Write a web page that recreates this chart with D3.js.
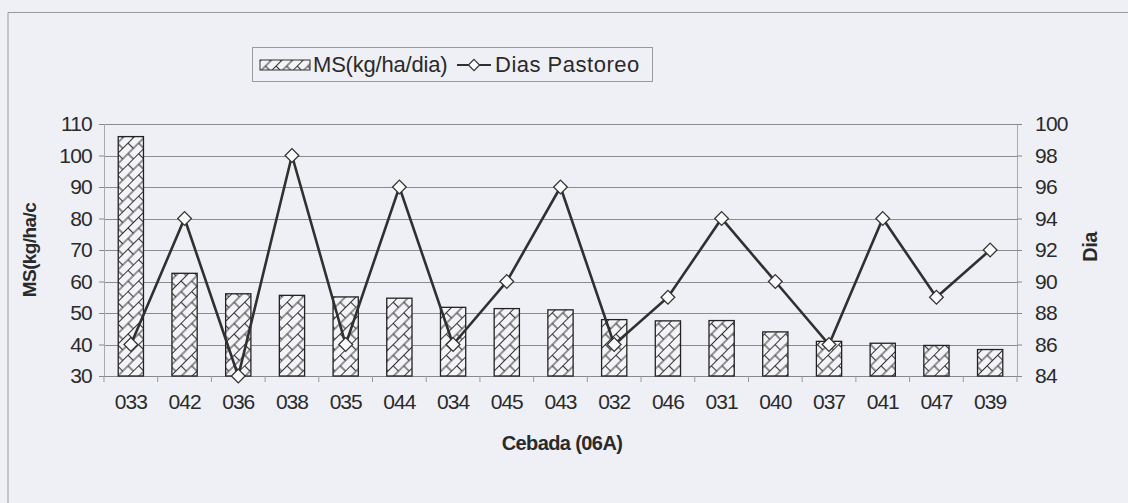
<!DOCTYPE html>
<html>
<head>
<meta charset="utf-8">
<script src="https://cdn.jsdelivr.net/npm/d3@7"></script>
<style>
  body { margin: 0; background: #eff0f6; }
  svg { display: block; font-family: 'Liberation Sans', Arial, sans-serif; }
</style>
</head>
<body>
<div id="chart"></div>
<script>
let categories = ['033', '042', '036', '038', '035', '044', '034', '045', '043', '032', '046', '031', '040', '037', '041', '047', '039']
let msValues = [106, 62.6, 56.1, 55.6, 55.1, 54.7, 51.8, 51.4, 51.0, 47.9, 47.5, 47.6, 44.0, 41.0, 40.4, 39.7, 38.4]
let diasValues = [86, 94, 84, 98, 86, 96, 86, 90, 96, 86, 89, 94, 90, 86, 94, 89, 92]
let leftTicks = [30, 40, 50, 60, 70, 80, 90, 100, 110]
let rightTicks = [84, 86, 88, 90, 92, 94, 96, 98, 100]

let width = 1128
let height = 503
let margin = { top: 124, left: 104, right: 111, bottom: 127 }
let innerW = width - margin.left - margin.right
let innerH = height - margin.top - margin.bottom

let svg = d3
  .select('#chart')
  .append('svg')
  .attr('width', width)
  .attr('height', height)

// hatch pattern (diagonal brick)
let defs = svg.append('defs')
let pat = defs
  .append('pattern')
  .attr('id', 'brick')
  .attr('patternUnits', 'userSpaceOnUse')
  .attr('width', 15)
  .attr('height', 15)
  .attr('patternTransform', 'rotate(-45)')
pat.append('rect').attr('width', 15).attr('height', 15).attr('fill', '#f4f4f8')
pat.append('path')
  .attr('d', 'M0,0.5 H15 M0,8 H15 M3.5,0.5 V8 M11,8 V15.5')
  .attr('stroke', '#333')
  .attr('stroke-width', 1.1)
  .attr('fill', 'none')

// outer chart border (only top and left visible)
svg.append('path')
  .attr('d', 'M8,' + height + ' V12.5 H' + width)
  .attr('fill', 'none')
  .attr('stroke', '#9a9a9e')
  .attr('stroke-width', 1)

let g = svg.append('g').attr('transform', 'translate(' + margin.left + ',' + margin.top + ')')

let x = d3.scaleBand().domain(categories).range([0, innerW]).paddingInner(0.53).paddingOuter(0.265)
let yLeft = d3.scaleLinear().domain([30, 110]).range([innerH, 0])
let yRight = d3.scaleLinear().domain([84, 100]).range([innerH, 0])

// gridlines
g.append('g')
  .selectAll('line')
  .data(leftTicks)
  .enter()
  .append('line')
  .attr('x1', 0)
  .attr('x2', innerW)
  .attr('y1', d => Math.round(yLeft(d)) + 0.5)
  .attr('y2', d => Math.round(yLeft(d)) + 0.5)
  .attr('stroke', '#8c8c90')
  .attr('stroke-width', 1)

// left axis
let leftAxis = g.append('g')
  .call(d3.axisLeft(yLeft).tickValues(leftTicks).tickSize(5).tickPadding(7))
leftAxis.select('.domain').attr('stroke', '#aaa')
leftAxis.selectAll('.tick line').attr('stroke', '#888')
leftAxis.selectAll('text').attr('font-size', 21).attr('fill', '#2a2a2a').attr('letter-spacing', -0.8)

// right axis
let rightAxis = g.append('g')
  .attr('transform', 'translate(' + innerW + ',0)')
  .call(d3.axisRight(yRight).tickValues(rightTicks).tickSize(5).tickPadding(13))
rightAxis.select('.domain').attr('stroke', '#aaa')
rightAxis.selectAll('.tick line').attr('stroke', '#888')
rightAxis.selectAll('text').attr('font-size', 21).attr('fill', '#2a2a2a').attr('letter-spacing', -0.8)

// x axis line and ticks between categories
let xAxisG = g.append('g').attr('transform', 'translate(0,' + innerH + ')')
xAxisG.append('line')
  .attr('x1', 0).attr('x2', innerW)
  .attr('y1', 0.5).attr('y2', 0.5)
  .attr('stroke', '#888')
xAxisG.selectAll('.sep')
  .data(d3.range(categories.length + 1))
  .enter()
  .append('line')
  .attr('x1', i => i * innerW / categories.length)
  .attr('x2', i => i * innerW / categories.length)
  .attr('y1', 0)
  .attr('y2', 6)
  .attr('stroke', '#999')
xAxisG.selectAll('.lab')
  .data(categories)
  .enter()
  .append('text')
  .attr('x', d => x(d) + x.bandwidth() / 2)
  .attr('y', 33)
  .attr('text-anchor', 'middle')
  .attr('font-size', 21)
  .attr('letter-spacing', -1)
  .attr('fill', '#2a2a2a')
  .text(d => d)

// bars
g.selectAll('.bar')
  .data(msValues)
  .enter()
  .append('rect')
  .attr('class', 'bar')
  .attr('x', (d, i) => x(categories[i]))
  .attr('width', x.bandwidth())
  .attr('y', d => yLeft(d))
  .attr('height', d => innerH - yLeft(d))
  .attr('fill', 'url(#brick)')
  .attr('stroke', '#222')
  .attr('stroke-width', 1.3)

// line
let line = d3.line()
  .x((d, i) => x(categories[i]) + x.bandwidth() / 2)
  .y(d => yRight(d))
g.append('path')
  .datum(diasValues)
  .attr('d', line)
  .attr('fill', 'none')
  .attr('stroke', '#303030')
  .attr('stroke-width', 2.6)

g.selectAll('.pt')
  .data(diasValues)
  .enter()
  .append('path')
  .attr('class', 'pt')
  .attr('d', d3.symbol().type(d3.symbolDiamond2).size(120))
  .attr('transform', (d, i) => 'translate(' + (x(categories[i]) + x.bandwidth() / 2) + ',' + yRight(d) + ')')
  .attr('fill', '#fafafa')
  .attr('stroke', '#333')
  .attr('stroke-width', 1.3)

// axis titles
svg.append('text')
  .attr('transform', 'translate(36,250) rotate(-90)')
  .attr('text-anchor', 'middle')
  .attr('font-size', 19)
  .attr('font-weight', 'bold')
  .attr('letter-spacing', -0.6)
  .attr('fill', '#2a2a2a')
  .text('MS(kg/ha/c')

svg.append('text')
  .attr('transform', 'translate(1097,247) rotate(-90)')
  .attr('text-anchor', 'middle')
  .attr('font-size', 20)
  .attr('font-weight', 'bold')
  .attr('letter-spacing', -0.6)
  .attr('fill', '#2a2a2a')
  .text('Dia')

svg.append('text')
  .attr('x', 562)
  .attr('y', 450)
  .attr('text-anchor', 'middle')
  .attr('font-size', 20)
  .attr('font-weight', 'bold')
  .attr('letter-spacing', -0.6)
  .attr('fill', '#2a2a2a')
  .text('Cebada (06A)')

// legend
let leg = svg.append('g').attr('transform', 'translate(252,47)')
leg.append('rect')
  .attr('x', 0.5).attr('y', 0.5)
  .attr('width', 400).attr('height', 34)
  .attr('fill', 'none')
  .attr('stroke', '#9a9a9e')
leg.append('rect')
  .attr('x', 8).attr('y', 13)
  .attr('width', 50).attr('height', 10)
  .attr('fill', 'url(#brick)')
  .attr('stroke', '#333')
leg.append('text')
  .attr('x', 61).attr('y', 25)
  .attr('font-size', 22)
  .attr('letter-spacing', -0.2)
  .attr('fill', '#2a2a2a')
  .text('MS(kg/ha/dia)')
leg.append('line')
  .attr('x1', 205).attr('x2', 239)
  .attr('y1', 18).attr('y2', 18)
  .attr('stroke', '#303030')
  .attr('stroke-width', 2.2)
leg.append('path')
  .attr('d', d3.symbol().type(d3.symbolDiamond2).size(80))
  .attr('transform', 'translate(222,18)')
  .attr('fill', '#fafafa')
  .attr('stroke', '#333')
  .attr('stroke-width', 1.2)
leg.append('text')
  .attr('x', 243).attr('y', 25)
  .attr('font-size', 22)
  .attr('letter-spacing', 0.5)
  .attr('fill', '#2a2a2a')
  .text('Dias Pastoreo')
</script>
</body>
</html>
